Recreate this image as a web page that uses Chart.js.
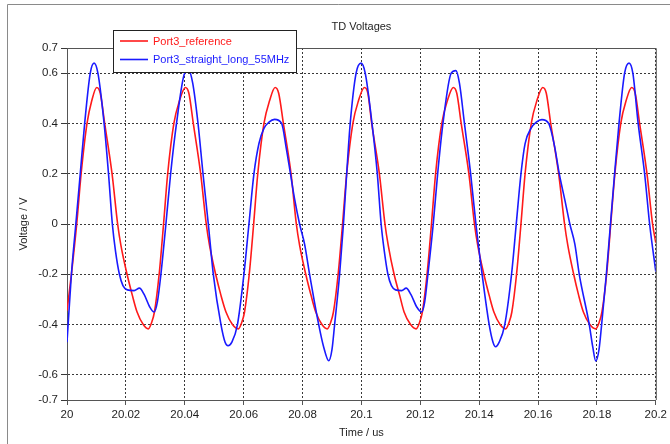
<!DOCTYPE html>
<html>
<head>
<meta charset="utf-8">
<title>TD Voltages</title>
<script src="https://cdn.jsdelivr.net/npm/chart.js@4/dist/chart.umd.min.js"></script>
<style>
  html, body { margin: 0; padding: 0; background: #ffffff; }
  canvas { display: block; }
</style>
</head>
<body>
<canvas id="td" width="670" height="444"></canvas>
<script>
// Time window starts at 20 us; sample times below are in ns after that start.
const windowStartUs = 20;

const chartTitle = 'TD Voltages';
const seriesNames = ['Port3_reference', 'Port3_straight_long_55MHz'];
const seriesColors = ['#ff1a1a', '#1a1aff'];

// Port3_reference
const refTimeNs = [
  0, 1.5, 3.3, 4.8, 6.8, 8.4, 10.1,
  11.3, 12.8, 15.3, 17.2, 18.3, 20.4, 22.2, 23.8, 25.9, 27.6,
  28.8, 29.7, 31.3, 32.8, 34.2, 36.3, 38.2, 40.2,
  41.4, 42.9, 45.4, 47.3, 48.4, 50.5, 52.3, 54.0, 56.2, 58.2,
  59.4, 60.3, 61.9, 63.4, 64.8, 66.9, 68.8, 70.7,
  71.9, 73.5, 76.1, 77.9, 79.0, 81.1, 82.9, 84.5, 86.6, 88.4,
  89.6, 90.5, 92.1, 93.6, 95.0, 97.1, 99.0, 101.0,
  102.2, 103.5, 106.1, 108.0, 109.1, 111.1, 113.0, 114.5, 116.7, 118.6,
  119.8, 120.7, 122.3, 123.8, 125.2, 127.3, 129.2, 131.2,
  132.4, 133.9, 136.5, 138.4, 139.5, 141.6, 143.4, 145.0, 147.1, 149.0,
  150.2, 151.1, 152.7, 154.2, 155.6, 157.7, 159.6, 161.6,
  162.8, 164.3, 167.0, 169.0, 170.1, 172.1, 173.8, 175.4, 177.6, 179.6,
  180.8, 181.7, 183.3, 184.7, 186.1, 188.1, 189.9, 191.8,
  193.0, 194.5, 197.0, 198.9, 200.0
];
const refVolt = [
  -0.345, -0.20, 0.00, 0.20, 0.40, 0.49, 0.543,
  0.52, 0.40, 0.20, 0.00, -0.084, -0.20, -0.284, -0.35, -0.40, -0.417,
  -0.39, -0.35, -0.20, 0.00, 0.20, 0.40, 0.49, 0.543,
  0.52, 0.40, 0.20, 0.00, -0.084, -0.20, -0.284, -0.35, -0.40, -0.417,
  -0.39, -0.35, -0.20, 0.00, 0.20, 0.40, 0.49, 0.543,
  0.52, 0.40, 0.20, 0.00, -0.084, -0.20, -0.284, -0.35, -0.40, -0.417,
  -0.39, -0.35, -0.20, 0.00, 0.20, 0.40, 0.49, 0.543,
  0.52, 0.40, 0.20, 0.00, -0.084, -0.20, -0.284, -0.35, -0.40, -0.417,
  -0.39, -0.35, -0.20, 0.00, 0.20, 0.40, 0.49, 0.543,
  0.52, 0.40, 0.20, 0.00, -0.084, -0.20, -0.284, -0.35, -0.40, -0.417,
  -0.39, -0.35, -0.20, 0.00, 0.20, 0.40, 0.49, 0.543,
  0.52, 0.40, 0.20, 0.00, -0.084, -0.20, -0.284, -0.35, -0.40, -0.417,
  -0.39, -0.35, -0.20, 0.00, 0.20, 0.40, 0.49, 0.543,
  0.52, 0.40, 0.20, 0.00, -0.075
];

// Port3_straight_long_55MHz
const longTimeNs = [
  0, 1.5, 3.0, 4.5, 6.0, 7.9, 9.2, 10.5, 12.6, 14.1, 15.4, 16.5, 17.8,
  19.0, 20.5, 22.8, 24.6, 26.2, 28.1, 29.6, 30.7, 31.9, 33.6, 35.2, 37.2,
  40.0, 41.4, 42.7, 44.5, 46.2, 48.0, 49.7, 52.3, 53.7, 54.7, 56.0, 57.9,
  60.1, 61.8, 63.5, 65.2, 66.9, 68.6, 70.5, 72.9, 74.5, 75.9, 77.3, 79.0,
  80.7, 82.4, 85.5, 87.2, 88.9, 90.0, 90.9, 92.6, 93.9, 95.0, 96.2, 98.2,
  99.9, 101.3, 103.6, 105.4, 106.7, 107.8, 109.0, 110.2, 111.6, 113.7, 115.2,
  116.8, 118.8, 120.5, 121.5, 122.6, 124.4, 125.9, 127.7, 130.5, 132.1,
  133.3, 135.0, 137.1, 138.9, 141.0, 143.4, 144.7, 145.6, 146.8, 148.7,
  151.0, 152.6, 154.2, 155.6, 157.6, 159.4, 161.3, 163.6, 165.6, 167.2,
  169.2, 170.8, 172.5, 174.0, 177.4, 178.6, 179.6, 180.7, 181.6, 183.2,
  184.6, 186.0, 187.5, 189.4, 190.9, 192.2, 194.0, 196.2, 197.9, 200.0
];
const longVolt = [
  -0.47, -0.20, 0.00, 0.20, 0.40, 0.60, 0.64, 0.60, 0.40, 0.20, 0.00, -0.11, -0.20,
  -0.245, -0.262, -0.265, -0.255, -0.28, -0.33, -0.35, -0.31, -0.20, 0.00, 0.20, 0.40,
  0.60, 0.61, 0.56, 0.40, 0.20, 0.00, -0.20, -0.40, -0.47, -0.484, -0.47, -0.40,
  -0.20, 0.00, 0.20, 0.32, 0.38, 0.405, 0.416, 0.40, 0.30, 0.20, 0.10, 0.00,
  -0.08, -0.20, -0.40, -0.49, -0.544, -0.50, -0.40, -0.20, 0.00, 0.20, 0.40, 0.60,
  0.64, 0.60, 0.40, 0.20, 0.00, -0.11, -0.20, -0.245, -0.262, -0.265, -0.255,
  -0.28, -0.33, -0.35, -0.31, -0.20, 0.00, 0.20, 0.40, 0.60, 0.61,
  0.56, 0.40, 0.20, 0.00, -0.20, -0.40, -0.47, -0.488, -0.47, -0.40,
  -0.20, 0.00, 0.20, 0.32, 0.38, 0.405, 0.415, 0.40, 0.31, 0.20,
  0.09, 0.00, -0.08, -0.20, -0.40, -0.49, -0.545, -0.50, -0.40, -0.20,
  0.00, 0.20, 0.40, 0.60, 0.64, 0.60, 0.40, 0.20, 0.00, -0.19
];

// Axis ticks
const timeTicksUs = [20, 20.02, 20.04, 20.06, 20.08, 20.1, 20.12, 20.14, 20.16, 20.18, 20.2];
const voltTicks = [-0.7, -0.6, -0.4, -0.2, 0, 0.2, 0.4, 0.6, 0.7];

const FONT = '"Liberation Sans", Arial, sans-serif';
const TEXT = '#1e1e1e';
const GRID = '#383838';

function toPoints(timesNs, volts) {
  return timesNs.map((t, i) => ({ x: windowStartUs + t / 1000, y: volts[i] }));
}
function fmt(v) {
  return String(Number(v.toFixed(2)));
}

// Outer panel frame, plot frame, title and legend box
const decorations = {
  id: 'decorations',
  beforeDraw(chart) {
    const ctx = chart.ctx;
    ctx.save();
    ctx.fillStyle = '#ffffff';
    ctx.fillRect(0, 0, chart.width, chart.height);
    ctx.strokeStyle = '#8a8a8a';
    ctx.lineWidth = 1;
    ctx.beginPath();
    ctx.moveTo(7.5, chart.height);
    ctx.lineTo(7.5, 4.5);
    ctx.lineTo(chart.width, 4.5);
    ctx.stroke();
    ctx.restore();
  },
  afterDraw(chart) {
    const ctx = chart.ctx;
    const a = chart.chartArea;
    ctx.save();
    // top and right edges of the plot frame
    ctx.strokeStyle = '#555555';
    ctx.lineWidth = 1;
    ctx.beginPath();
    ctx.moveTo(a.left, a.top + 0.5);
    ctx.lineTo(a.right + 0.5, a.top + 0.5);
    ctx.lineTo(a.right + 0.5, a.bottom);
    ctx.stroke();

    // title
    ctx.fillStyle = TEXT;
    ctx.font = '11px ' + FONT;
    ctx.textAlign = 'center';
    ctx.textBaseline = 'middle';
    ctx.fillText(chartTitle, (a.left + a.right) / 2, 27);

    // legend
    const bx = 113.5, by = 30.5, bw = 183, bh = 42;
    ctx.fillStyle = '#ffffff';
    ctx.fillRect(bx, by, bw, bh);
    ctx.strokeStyle = '#222222';
    ctx.lineWidth = 1;
    ctx.strokeRect(bx, by, bw, bh);
    ctx.textAlign = 'left';
    chart.data.datasets.forEach((ds, i) => {
      const y = 41 + i * 18.5;
      ctx.strokeStyle = ds.borderColor;
      ctx.lineWidth = 1.6;
      ctx.beginPath();
      ctx.moveTo(120, y);
      ctx.lineTo(148, y);
      ctx.stroke();
      ctx.fillStyle = ds.borderColor;
      ctx.font = '11px ' + FONT;
      ctx.fillText(ds.label, 153, y + 0.5);
    });
    ctx.restore();
  }
};

new Chart(document.getElementById('td'), {
  type: 'line',
  data: {
    datasets: [
      {
        label: seriesNames[0],
        data: toPoints(refTimeNs, refVolt),
        borderColor: seriesColors[0],
        order: 1
      },
      {
        label: seriesNames[1],
        data: toPoints(longTimeNs, longVolt),
        borderColor: seriesColors[1],
        order: 0
      }
    ]
  },
  options: {
    responsive: false,
    animation: false,
    devicePixelRatio: 1,
    layout: { padding: { left: 0, right: 12, top: 48, bottom: 0 } },
    parsing: false,
    elements: {
      point: { radius: 0, hoverRadius: 0 },
      line: { borderWidth: 1.6, cubicInterpolationMode: 'monotone', fill: false }
    },
    plugins: {
      legend: { display: false },
      tooltip: { enabled: false },
      title: { display: false }
    },
    events: [],
    scales: {
      x: {
        type: 'linear',
        min: 20,
        max: 20.2,
        afterBuildTicks: (s) => { s.ticks = timeTicksUs.map(v => ({ value: v })); },
        afterFit: (s) => { s.height = 44; },
        ticks: {
          callback: (v) => fmt(v),
          autoSkip: false,
          maxRotation: 0,
          padding: 3,
          color: TEXT,
          font: { family: FONT, size: 11.5 }
        },
        grid: { color: GRID, lineWidth: 1, tickLength: 5, tickColor: '#555555', tickBorderDash: [] },
        border: { display: true, color: '#555555', width: 1, dash: [2, 2] },
        title: {
          display: true,
          text: 'Time / us',
          color: TEXT,
          font: { family: FONT, size: 11 },
          padding: { top: 0, bottom: 4 }
        }
      },
      y: {
        type: 'linear',
        min: -0.7,
        max: 0.7,
        afterBuildTicks: (s) => { s.ticks = voltTicks.map(v => ({ value: v })); },
        afterFit: (s) => { s.width = 67; },
        ticks: {
          callback: (v) => fmt(v),
          autoSkip: false,
          padding: 3,
          color: TEXT,
          font: { family: FONT, size: 11.5 }
        },
        grid: { color: GRID, lineWidth: 1, tickLength: 6 },
        border: { display: true, color: '#555555', width: 1, dash: [2, 2] },
        title: {
          display: true,
          text: 'Voltage / V',
          color: TEXT,
          font: { family: FONT, size: 11 },
          padding: { top: 17, bottom: 0 }
        }
      }
    }
  },
  plugins: [decorations]
});
</script>
</body>
</html>
